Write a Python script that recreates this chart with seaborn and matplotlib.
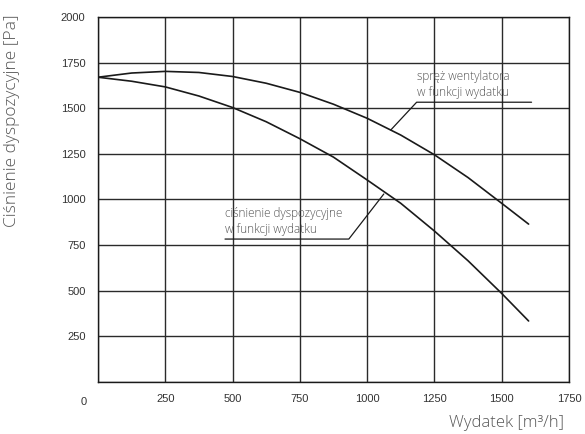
import numpy as np
import pandas as pd
import seaborn as sns
import matplotlib.pyplot as plt

# flow [m3/h] and pressures [Pa]
flow = [0, 125, 250, 375, 500, 625, 750, 875, 1000, 1125, 1250, 1375, 1500, 1600]
fan_pressure = [1670, 1693, 1702, 1696, 1674, 1637, 1587, 1522, 1445, 1353, 1245, 1120, 979, 865]
avail_pressure = [1670, 1648, 1617, 1567, 1504, 1426, 1333, 1232, 1107, 979, 827, 664, 485, 334]

x_ticks = [0, 250, 500, 750, 1000, 1250, 1500, 1750]
y_ticks = [0, 250, 500, 750, 1000, 1250, 1500, 1750, 2000]

label_fan = "spręż wentylatora\nw funkcji wydatku"
label_avail = "ciśnienie dyspozycyjne\nw funkcji wydatku"

df = pd.DataFrame({
    "flow": flow * 2,
    "pressure": fan_pressure + avail_pressure,
    "curve": ["fan"] * len(flow) + ["avail"] * len(flow),
})

sns.set_style("white")
plt.rcParams["font.family"] = ["Liberation Sans", "DejaVu Sans"]

fig, ax = plt.subplots(figsize=(5.85, 4.34), dpi=100)
fig.subplots_adjust(left=0.1675, right=0.9726, bottom=0.12, top=0.9608)

sns.lineplot(data=df, x="flow", y="pressure", units="curve", estimator=None,
             color="#1a1a1a", linewidth=1.2, ax=ax, legend=False,
             solid_joinstyle="round")

ax.set_xlim(0, 1750)
ax.set_ylim(0, 2000)
ax.set_xticks(x_ticks)
ax.set_yticks(y_ticks)
ax.set_xticklabels([""] + [str(t) for t in x_ticks[1:]])
ax.set_yticklabels([""] + [str(t) for t in y_ticks[1:]])
ax.tick_params(axis="both", direction="out", length=3, width=1, color="#1a1a1a",
               labelsize=8, labelcolor="#333333")
ax.tick_params(axis="x", pad=6)
ax.tick_params(axis="y", pad=6)
ax.grid(True, color="#2a2a2a", linewidth=1.0)
for s in ax.spines.values():
    s.set_color("#1a1a1a")
    s.set_linewidth(1.0)

ax.text(-0.03, -0.04, "0", transform=ax.transAxes, ha="center", va="top",
        fontsize=8, color="#333333")

light = dict(family=["Open Sans", "DejaVu Sans"], fontweight="light", color="#555555")
ax.set_ylabel("Ciśnienie dyspozycyjne [Pa]", fontsize=12.5, va="center", **light)
ax.yaxis.set_label_coords(-0.183, 0.715)
ax.set_xlabel("Wydatek [m³/h]", fontsize=12, ha="right", va="center", **light)
ax.xaxis.set_label_coords(0.989, -0.113)

# annotations with leader lines
ax.text(1184, 1548, label_fan, fontsize=8.5, va="bottom", ha="left",
        linespacing=1.3, **light)
ax.plot([1088, 1184, 1611], [1381, 1533, 1533], color="#1a1a1a", linewidth=0.9)

ax.text(472, 798, label_avail, fontsize=8.5, va="bottom", ha="left",
        linespacing=1.3, **light)
ax.plot([472, 932, 1062], [783, 783, 1030], color="#1a1a1a", linewidth=0.9)

fig.savefig("out.png", dpi=100)
